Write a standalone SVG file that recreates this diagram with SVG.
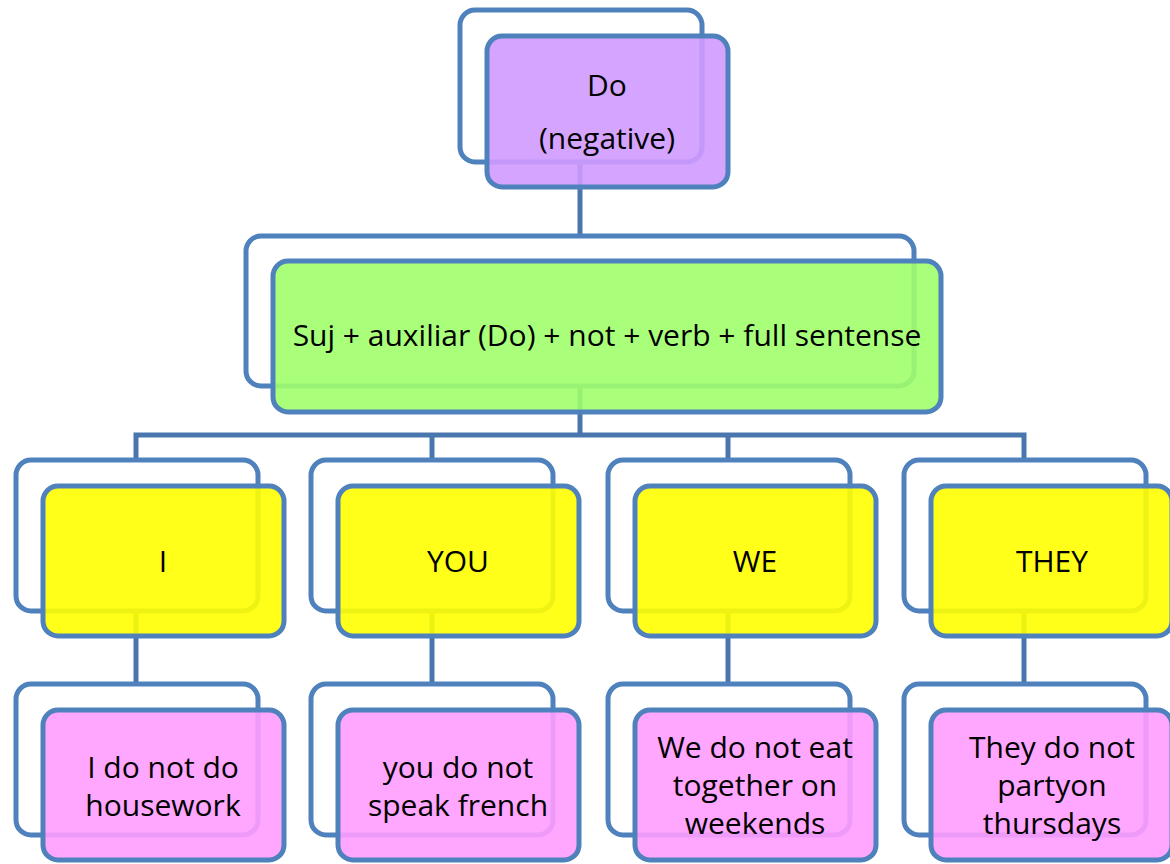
<svg xmlns="http://www.w3.org/2000/svg" width="1170" height="864" viewBox="0 0 1170 864">
<style>
.back{fill:none;stroke:#4F81BD;stroke-width:5}
.front{stroke:#4F81BD;stroke-width:5;fill-opacity:0.9}
.p{fill:#CF9AFF}
.g{fill:#A0FF6C}
.y{fill:#FFFF00}
.k{fill:#FF9CFF}
.c{fill:none;stroke:#4A76AE;stroke-width:5}
text{font-family:"Open Sans","Liberation Sans",sans-serif;font-size:30px;fill:#000;text-anchor:middle}
</style>
<rect width="1170" height="864" fill="#fff"/>
<g id="connectors">
<path class="c" d="M580 163V236"/>
<path class="c" d="M580 386V435M136 460V435H1024V460M432 435V460M728 435V460"/>
<path class="c" d="M136 611V684M432 611V684M728 611V684M1024 611V684"/>
</g>
<g id="n-do">
<rect class="back" x="460" y="10" width="242" height="152" rx="15"/>
<rect class="front p" x="487" y="36" width="241" height="151" rx="15"/>
<text x="607" y="96">Do</text>
<text x="607" y="149">(negative)</text>
</g>
<g id="n-rule">
<rect class="back" x="246" y="236" width="668" height="150" rx="15"/>
<rect class="front g" x="273" y="261" width="668" height="151" rx="15"/>
<text x="607" y="346">Suj + auxiliar (Do) + not + verb + full sentense</text>
</g>
<g id="n-i">
<rect class="back" x="16" y="460" width="242" height="151" rx="15"/>
<rect class="front y" x="43" y="486" width="241" height="150" rx="15"/>
<text x="163" y="572">I</text>
</g>
<g id="n-you">
<rect class="back" x="311" y="460" width="242" height="151" rx="15"/>
<rect class="front y" x="338" y="486" width="241" height="150" rx="15"/>
<text x="458" y="572">YOU</text>
</g>
<g id="n-we">
<rect class="back" x="608" y="460" width="242" height="151" rx="15"/>
<rect class="front y" x="635" y="486" width="241" height="150" rx="15"/>
<text x="755" y="572">WE</text>
</g>
<g id="n-they">
<rect class="back" x="904" y="460" width="242" height="151" rx="15"/>
<rect class="front y" x="931" y="486" width="241" height="150" rx="15"/>
<text x="1052" y="572">THEY</text>
</g>
<g id="n-i-ex">
<rect class="back" x="16" y="684" width="242" height="151" rx="15"/>
<rect class="front k" x="43" y="710" width="241" height="150" rx="15"/>
<text x="163" y="778">I do not do</text>
<text x="163" y="816">housework</text>
</g>
<g id="n-you-ex">
<rect class="back" x="311" y="684" width="242" height="151" rx="15"/>
<rect class="front k" x="338" y="710" width="241" height="150" rx="15"/>
<text x="458" y="778">you do not</text>
<text x="458" y="816">speak french</text>
</g>
<g id="n-we-ex">
<rect class="back" x="608" y="684" width="242" height="151" rx="15"/>
<rect class="front k" x="635" y="710" width="241" height="150" rx="15"/>
<text x="755" y="758">We do not eat</text>
<text x="755" y="796">together on</text>
<text x="755" y="834">weekends</text>
</g>
<g id="n-they-ex">
<rect class="back" x="904" y="684" width="242" height="151" rx="15"/>
<rect class="front k" x="931" y="710" width="241" height="150" rx="15"/>
<text x="1052" y="758">They do not</text>
<text x="1052" y="796">partyon</text>
<text x="1052" y="834">thursdays</text>
</g>
</svg>
